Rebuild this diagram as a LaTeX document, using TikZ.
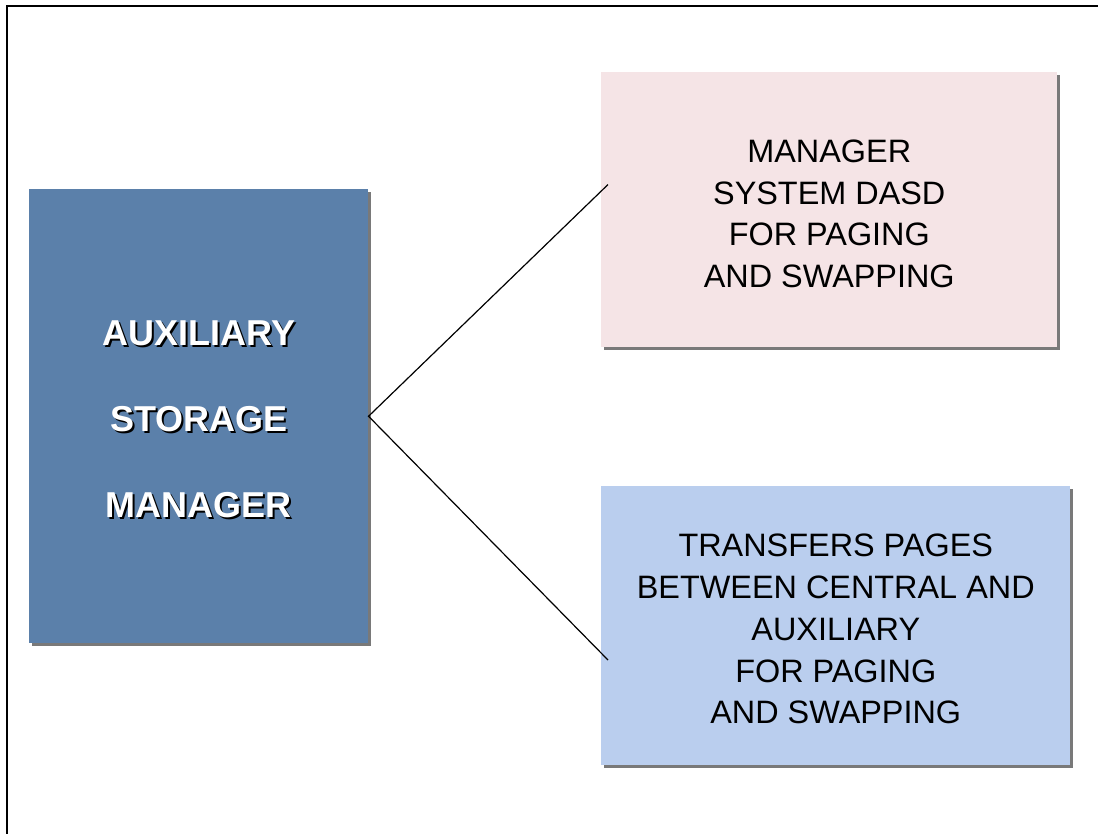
\documentclass[tikz,border=0pt]{standalone}
\usepackage{fontspec}
\setmainfont{Liberation Sans}
\usetikzlibrary{shadows,calc}
\definecolor{asmblue}{RGB}{91,128,170}
\definecolor{dasdpink}{RGB}{245,228,230}
\definecolor{xferblue}{RGB}{186,206,238}
% white title text with a dark offset copy behind it
\newcommand{\shtext}[1]{\leavevmode\rlap{\hspace{1.6pt}\raisebox{-1.6pt}{\color{black}#1}}#1}
\begin{document}
\begin{tikzpicture}[x=0.75pt, y=-0.75pt,
        box/.style={anchor=north west, inner sep=0pt, align=center,
            drop shadow={shadow xshift=2.2pt, shadow yshift=-2.2pt, fill=black!70, opacity=0.75}},
        plain/.style={font=\fontsize{24.3}{31.3}\selectfont}]
    \useasboundingbox (0,0) rectangle (1098,834);
    \draw[line width=1pt] (7,834) -- (7,6) -- (1098,6);

    \node[box, fill=asmblue, text=white, minimum width={339*0.75pt}, minimum height={454*0.75pt},
        font=\fontsize{27}{64.5}\selectfont\bfseries] (asm) at (29,189)
        {\rule{0pt}{25pt}\shtext{AUXILIARY}\\ \shtext{STORAGE}\\ \shtext{MANAGER}};
    \node[box, plain, fill=dasdpink, minimum width={456*0.75pt}, minimum height={275*0.75pt}] (dasd) at (601,72)
        {\rule{0pt}{23pt}MANAGER\\ SYSTEM DASD\\ FOR PAGING\\ AND SWAPPING};
    \node[box, plain, fill=xferblue, minimum width={469*0.75pt}, minimum height={279*0.75pt}] (xfer) at (601,486)
        {\rule{0pt}{22pt}TRANSFERS PAGES\\ BETWEEN CENTRAL AND\\ AUXILIARY\\ FOR PAGING\\ AND SWAPPING};

    \draw[line width=0.9pt] ($(dasd.south west)+(7,-163)$) -- (asm.east) -- ($(xfer.north west)+(7,174)$);
\end{tikzpicture}
\end{document}
